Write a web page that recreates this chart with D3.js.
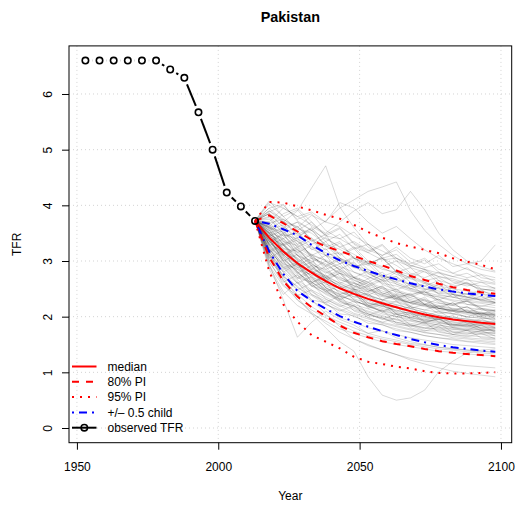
<!DOCTYPE html>
<html>
<head>
<meta charset="utf-8">
<script src="https://cdn.jsdelivr.net/npm/d3@7"></script>
<style>
  html, body { margin: 0; padding: 0; background: #fff; }
  svg { display: block; font-family: "Liberation Sans", Arial, Helvetica, sans-serif; }
</style>
</head>
<body>
<script>
// Pakistan: observed total fertility rate and probabilistic projection

const country = "Pakistan";

// Observed TFR (5-year period midpoints)
const obsYears = [1953, 1958, 1963, 1968, 1973, 1978, 1983, 1988, 1993, 1998, 2003, 2008, 2013];
const obsTFR   = [6.60, 6.60, 6.60, 6.60, 6.60, 6.60, 6.44, 6.29, 5.67, 5.00, 4.23, 3.98, 3.72];

// Projection periods
const projYears = [2013, 2018, 2023, 2028, 2033, 2038, 2043, 2048, 2053, 2058, 2063, 2068, 2073, 2078, 2083, 2088, 2093, 2098];

const median  = [3.72, 3.42, 3.17, 2.96, 2.79, 2.64, 2.51, 2.41, 2.32, 2.24, 2.17, 2.10, 2.04, 1.99, 1.95, 1.92, 1.89, 1.87];
const pi80Up  = [3.72, 3.82, 3.68, 3.53, 3.38, 3.26, 3.18, 3.09, 3.00, 2.92, 2.83, 2.73, 2.66, 2.59, 2.53, 2.48, 2.44, 2.41];
const pi80Low = [3.72, 3.07, 2.64, 2.36, 2.17, 2.01, 1.84, 1.71, 1.63, 1.56, 1.51, 1.47, 1.42, 1.38, 1.35, 1.33, 1.31, 1.29];
const pi95Up  = [3.72, 4.06, 4.05, 3.98, 3.91, 3.83, 3.76, 3.65, 3.52, 3.42, 3.32, 3.26, 3.20, 3.14, 3.05, 2.99, 2.93, 2.85];
const pi95Low = [3.72, 2.82, 2.22, 1.91, 1.67, 1.55, 1.43, 1.28, 1.19, 1.15, 1.10, 1.07, 1.02, 0.99, 0.98, 0.98, 0.99, 1.00];
const halfChildUp  = [3.72, 3.67, 3.57, 3.46, 3.29, 3.14, 3.01, 2.91, 2.82, 2.74, 2.67, 2.60, 2.54, 2.49, 2.45, 2.42, 2.39, 2.37];
const halfChildLow = [3.72, 3.17, 2.77, 2.46, 2.29, 2.14, 2.01, 1.91, 1.82, 1.74, 1.67, 1.60, 1.54, 1.49, 1.45, 1.42, 1.39, 1.37];

// Sampled trajectories
const trajectories = [
  [3.72,3.50,3.31,3.05,2.88,2.70,2.55,2.49,2.38,2.30,2.21,2.15,2.08,2.02,1.99,1.95,1.93,1.90],
  [3.72,3.38,3.10,2.95,2.71,2.60,2.44,2.36,2.29,2.18,2.12,2.05,2.00,1.96,1.91,1.88,1.86,1.84],
  [3.72,3.60,3.52,3.35,3.22,3.10,3.02,2.88,2.80,2.70,2.62,2.51,2.44,2.38,2.35,2.30,2.26,2.24],
  [3.72,3.21,2.90,2.62,2.45,2.31,2.20,2.06,1.99,1.90,1.84,1.78,1.71,1.68,1.62,1.60,1.57,1.55],
  [3.72,3.90,3.70,3.62,3.40,3.28,3.05,2.95,2.77,2.66,2.59,2.48,2.40,2.35,2.28,2.22,2.20,2.16],
  [3.72,3.30,2.98,2.70,2.62,2.48,2.36,2.30,2.18,2.10,2.04,1.98,1.92,1.88,1.85,1.81,1.78,1.76],
  [3.72,3.45,3.28,3.10,3.00,2.82,2.70,2.61,2.50,2.43,2.35,2.28,2.22,2.15,2.11,2.06,2.04,2.01],
  [3.72,3.08,2.66,2.40,2.18,2.02,1.90,1.80,1.70,1.63,1.58,1.52,1.49,1.45,1.43,1.40,1.38,1.36],
  [3.72,3.55,3.22,3.18,2.92,2.85,2.66,2.60,2.52,2.38,2.33,2.25,2.20,2.12,2.10,2.04,2.00,1.98],
  [3.72,3.68,3.75,3.58,3.50,3.30,3.21,3.05,2.98,2.85,2.80,2.70,2.62,2.55,2.50,2.46,2.41,2.38],
  [3.72,3.25,3.05,2.80,2.55,2.42,2.30,2.19,2.10,2.02,1.95,1.92,1.86,1.82,1.78,1.75,1.73,1.70],
  [3.72,3.40,3.20,2.92,2.80,2.58,2.52,2.40,2.25,2.20,2.10,2.06,1.98,1.95,1.90,1.86,1.84,1.82],
  [3.72,4.05,3.95,3.80,3.88,3.70,3.62,3.45,3.30,3.18,3.05,2.92,2.85,2.72,2.65,2.58,2.50,2.46],
  [3.72,2.90,2.45,2.20,2.05,1.92,1.78,1.70,1.62,1.55,1.50,1.46,1.42,1.38,1.36,1.33,1.31,1.30],
  [3.72,3.52,3.40,3.20,3.05,2.95,2.78,2.70,2.58,2.50,2.40,2.34,2.28,2.20,2.15,2.12,2.08,2.05],
  [3.72,3.35,3.12,2.88,2.68,2.55,2.46,2.32,2.24,2.15,2.08,2.02,1.96,1.92,1.88,1.84,1.83,1.80],
  [3.72,3.62,3.30,3.00,2.70,2.48,2.28,2.15,2.05,1.98,1.90,1.86,1.80,1.78,1.74,1.72,1.70,1.69],
  [3.72,3.15,2.95,2.85,2.75,2.66,2.58,2.50,2.44,2.36,2.30,2.24,2.18,2.15,2.10,2.08,2.05,2.03],
  [3.72,3.85,3.70,3.90,4.31,4.71,3.97,3.60,3.30,3.05,2.92,2.75,2.62,2.50,2.42,2.35,2.30,2.26],
  [3.72,3.85,3.60,3.70,3.55,3.72,3.95,4.10,4.25,4.33,4.42,3.90,3.55,3.30,3.10,2.95,2.85,2.80],
  [3.72,3.70,3.95,3.80,3.65,3.50,3.70,3.90,4.05,3.85,3.92,4.25,3.92,3.50,3.20,3.00,2.90,2.82],
  [3.72,3.60,3.45,3.50,3.30,3.42,3.25,3.35,3.20,3.10,3.25,3.05,2.95,3.10,2.90,2.95,3.00,3.29],
  [3.72,3.20,2.70,2.35,2.05,1.80,1.55,1.38,0.92,0.59,0.50,0.54,0.68,1.01,1.20,1.35,1.40,1.42],
  [3.72,2.95,2.30,1.63,1.90,2.10,1.95,1.85,1.70,1.75,1.62,1.55,1.50,1.45,1.42,1.40,1.38,1.36],
  [3.72,3.48,3.35,3.28,3.10,3.02,2.90,2.80,2.72,2.60,2.55,2.46,2.40,2.36,2.30,2.27,2.24,2.20],
  [3.72,3.12,2.80,2.52,2.38,2.22,2.12,2.00,1.92,1.85,1.78,1.72,1.66,1.62,1.58,1.55,1.52,1.50],
  [3.72,3.58,3.15,2.90,2.74,2.52,2.40,2.26,2.22,2.08,2.00,1.96,1.88,1.85,1.80,1.77,1.76,1.74],
  [3.72,3.95,4.02,3.72,3.55,3.40,3.25,3.12,2.96,2.88,2.76,2.68,2.60,2.52,2.46,2.40,2.36,2.33],
  [3.72,3.30,3.08,2.78,2.62,2.44,2.32,2.22,2.14,2.05,2.00,1.93,1.90,1.85,1.81,1.79,1.76,1.74],
  [3.72,3.42,3.28,3.02,2.86,2.74,2.60,2.46,2.40,2.30,2.26,2.18,2.12,2.08,2.05,2.00,1.97,1.96],
  [3.72,3.00,2.58,2.30,2.12,1.98,1.86,1.74,1.66,1.60,1.55,1.50,1.46,1.42,1.40,1.37,1.35,1.33],
  [3.72,3.65,3.48,3.40,3.25,3.15,3.05,2.92,2.84,2.74,2.66,2.58,2.50,2.46,2.40,2.35,2.32,2.30],
  [3.72,3.36,3.02,2.82,2.55,2.48,2.25,2.20,2.02,1.98,1.86,1.84,1.75,1.74,1.68,1.66,1.64,1.62],
  [3.72,3.50,3.60,3.30,3.42,3.10,3.15,2.90,2.95,2.70,2.72,2.55,2.55,2.42,2.40,2.32,2.30,2.26],
  [3.72,3.22,2.88,2.98,2.62,2.70,2.40,2.46,2.20,2.25,2.05,2.08,1.92,1.95,1.85,1.86,1.80,1.80],
  [3.72,3.44,3.12,2.85,2.66,2.50,2.38,2.28,2.20,2.12,2.05,1.98,1.94,1.90,1.86,1.83,1.80,1.79],
  [3.72,3.75,3.50,3.30,3.12,3.00,2.85,2.72,2.62,2.52,2.45,2.38,2.30,2.24,2.20,2.16,2.13,2.10],
  [3.72,3.10,2.72,2.55,2.30,2.25,2.05,2.02,1.88,1.86,1.75,1.72,1.66,1.62,1.60,1.56,1.55,1.52],
  [3.72,3.55,3.38,3.10,2.95,2.80,2.68,2.55,2.48,2.38,2.32,2.25,2.20,2.15,2.12,2.08,2.05,2.02],
  [3.72,3.28,2.92,2.66,2.48,2.35,2.22,2.12,2.05,1.96,1.90,1.85,1.80,1.76,1.72,1.70,1.68,1.66],
  [3.72,4.08,3.80,3.55,3.70,3.45,3.40,3.25,3.15,3.02,3.05,2.88,2.80,2.72,2.68,2.60,2.55,2.52],
  [3.72,3.40,3.00,2.75,2.58,2.40,2.28,2.18,2.08,2.00,1.94,1.88,1.84,1.80,1.77,1.75,1.72,1.71],
  [3.72,3.32,3.15,2.95,2.78,2.62,2.52,2.40,2.32,2.24,2.16,2.10,2.05,2.00,1.96,1.93,1.90,1.88],
  [3.72,2.85,2.40,2.62,2.30,2.05,1.82,1.60,1.48,1.40,1.32,1.25,1.20,1.18,1.15,1.12,1.10,1.08],
  [3.72,3.62,3.45,3.25,3.08,2.92,2.78,2.66,2.55,2.46,2.38,2.31,2.24,2.18,2.14,2.10,2.06,2.04],
  [3.72,3.18,2.82,2.60,2.40,2.28,2.14,2.04,1.96,1.88,1.82,1.76,1.72,1.68,1.65,1.62,1.60,1.58],
  [3.72,3.52,3.18,3.05,2.82,2.70,2.55,2.44,2.36,2.26,2.22,2.14,2.08,2.02,1.98,1.96,1.92,1.90],
  [3.72,3.85,3.62,3.42,3.60,3.35,3.48,3.22,3.30,3.05,3.12,2.92,2.85,2.78,2.72,2.66,2.62,2.58],
  [3.72,3.05,2.75,2.48,2.28,2.15,1.98,1.90,1.80,1.74,1.68,1.62,1.58,1.54,1.50,1.48,1.46,1.44],
  [3.72,3.46,3.24,2.98,2.80,2.66,2.50,2.42,2.31,2.22,2.16,2.08,2.02,1.98,1.94,1.90,1.88,1.86],
  [3.72,3.15,2.65,2.30,2.08,1.88,1.72,1.60,1.50,1.40,1.32,1.22,1.15,1.08,1.02,0.98,0.95,0.92],
  [3.72,3.90,3.75,3.60,3.82,3.70,4.05,3.95,3.70,3.50,3.62,3.40,3.20,3.05,2.95,2.85,2.76,2.70],
  [3.72,3.60,3.30,3.42,3.05,2.90,3.02,2.70,2.62,2.75,2.48,2.40,2.45,2.30,2.22,2.28,2.15,2.10],
  [3.72,3.35,3.50,3.10,2.85,3.00,2.72,2.55,2.68,2.42,2.35,2.40,2.22,2.18,2.25,2.08,2.02,2.05],
  [3.72,3.05,3.20,2.80,2.60,2.75,2.50,2.35,2.42,2.20,2.10,2.18,2.00,1.95,2.02,1.88,1.85,1.90],
  [3.72,3.80,3.55,3.70,3.35,3.48,3.10,3.22,2.95,3.05,2.80,2.88,2.65,2.70,2.55,2.60,2.48,2.50],
  [3.72,3.25,2.85,2.95,2.55,2.62,2.30,2.42,2.15,2.22,2.00,2.05,1.90,1.96,1.82,1.85,1.75,1.78],
  [3.72,3.48,3.12,3.25,2.92,2.70,2.82,2.50,2.38,2.52,2.28,2.20,2.30,2.10,2.05,2.12,1.98,1.95],
  [3.72,3.95,3.72,3.48,3.58,3.25,3.35,3.05,2.92,3.08,2.80,2.70,2.82,2.60,2.52,2.62,2.45,2.40],
  [3.72,3.15,3.30,2.92,3.05,2.65,2.78,2.48,2.55,2.30,2.38,2.15,2.22,2.05,2.10,1.98,2.00,1.92],
  [3.72,3.42,3.00,2.70,2.85,2.52,2.35,2.48,2.20,2.08,2.18,1.95,1.88,1.98,1.80,1.76,1.85,1.72],
  [3.72,3.70,3.40,3.55,3.20,3.35,3.05,2.88,3.00,2.75,2.62,2.72,2.50,2.42,2.52,2.35,2.30,2.38],
  [3.72,2.98,2.62,2.75,2.40,2.25,2.38,2.10,2.02,2.12,1.88,1.82,1.90,1.72,1.68,1.76,1.62,1.60],
  [3.72,3.55,3.65,3.35,3.10,3.22,2.95,3.05,2.78,2.65,2.80,2.55,2.48,2.58,2.40,2.35,2.42,2.30],
  [3.72,3.28,3.40,3.15,2.90,2.72,2.85,2.62,2.45,2.55,2.35,2.25,2.32,2.15,2.12,2.18,2.05,2.08],
  [3.72,3.62,3.85,3.95,3.70,3.45,3.58,3.30,3.15,3.28,3.00,2.90,3.02,2.80,2.72,2.78,2.65,2.60],
  [3.72,3.38,3.05,2.78,2.92,2.65,2.50,2.60,2.38,2.30,2.40,2.18,2.12,2.20,2.05,2.00,2.08,1.96],
  [3.72,3.10,2.80,2.95,2.62,2.45,2.55,2.30,2.18,2.28,2.05,1.98,2.08,1.90,1.84,1.92,1.78,1.75],
  [3.72,3.50,3.20,2.98,3.12,2.85,2.95,2.70,2.58,2.68,2.45,2.38,2.48,2.28,2.22,2.30,2.15,2.12],
  [3.72,3.88,4.00,3.75,3.85,3.55,3.40,3.52,3.25,3.10,3.20,2.98,2.88,2.95,2.78,2.70,2.75,2.62],
  [3.72,3.22,2.95,2.68,2.80,2.52,2.40,2.50,2.25,2.18,2.28,2.08,2.00,2.10,1.95,1.90,1.96,1.85],
  [3.72,3.45,3.55,3.25,3.38,3.10,2.95,3.08,2.85,2.72,2.82,2.62,2.55,2.65,2.45,2.40,2.48,2.36],
  [3.72,3.02,2.72,2.48,2.60,2.32,2.18,2.28,2.05,1.95,2.05,1.85,1.78,1.88,1.72,1.68,1.75,1.65],
  [3.72,3.65,3.35,3.15,3.28,3.00,2.85,2.98,2.72,2.62,2.72,2.50,2.42,2.52,2.35,2.30,2.36,2.25],
  [3.72,3.32,3.48,3.20,2.98,3.10,2.82,2.70,2.82,2.58,2.48,2.58,2.38,2.30,2.40,2.22,2.18,2.25],
  [3.72,3.78,3.50,3.62,3.38,3.20,3.32,3.05,2.95,3.05,2.82,2.75,2.85,2.65,2.58,2.68,2.50,2.46],
  [3.72,3.18,3.32,3.02,2.78,2.90,2.62,2.52,2.62,2.40,2.32,2.42,2.22,2.15,2.25,2.08,2.05,2.12],
  [3.72,3.40,3.10,3.22,2.95,2.78,2.90,2.65,2.55,2.65,2.42,2.35,2.45,2.25,2.20,2.28,2.12,2.10],
  [3.72,2.92,2.55,2.38,2.48,2.22,2.10,2.20,1.98,1.90,1.98,1.80,1.74,1.82,1.68,1.64,1.70,1.60],
  [3.72,3.58,3.72,3.45,3.55,3.28,3.12,3.25,3.00,2.90,3.00,2.78,2.70,2.80,2.62,2.55,2.62,2.50],
  [3.72,3.30,3.00,3.12,2.82,2.68,2.78,2.55,2.45,2.55,2.32,2.25,2.35,2.15,2.10,2.18,2.02,2.00],
  [3.72,3.50,3.28,3.38,3.08,2.92,3.05,2.80,2.68,2.80,2.58,2.50,2.60,2.40,2.35,2.42,2.28,2.25],
  [3.72,3.12,2.88,2.60,2.72,2.45,2.32,2.42,2.18,2.10,2.20,2.00,1.94,2.02,1.86,1.82,1.90,1.80],
  [3.72,4.02,3.80,3.92,3.62,3.48,3.60,3.32,3.18,3.30,3.05,2.95,3.05,2.85,2.78,2.88,2.70,2.66],
  [3.72,3.36,3.08,2.88,2.98,2.72,2.60,2.70,2.48,2.40,2.50,2.28,2.22,2.32,2.12,2.08,2.15,2.02]
];

const xTicks = [1950, 2000, 2050, 2100];
const yTicks = [0, 1, 2, 3, 4, 5, 6];

const legendLabels = ["median", "80% PI", "95% PI", "+/\u2013 0.5 child", "observed TFR"];

// ---- layout ----
const W = 516, H = 509;
const plot = { left: 69, right: 511.7, top: 45.9, bottom: 442.7 };

const svg = d3.select("body").append("svg")
  .attr("width", W).attr("height", H);

const x = d3.scaleLinear().domain([1947.2, 2103.8]).range([plot.left, plot.right]);
const y = d3.scaleLinear().domain([-0.264, 6.864]).range([plot.bottom, plot.top]);

// grid
const grid = svg.append("g").attr("stroke", "#d3d3d3").attr("stroke-width", 1)
  .attr("stroke-dasharray", "1,3");
grid.selectAll("line.gx").data(xTicks).join("line")
  .attr("x1", d => x(d)).attr("x2", d => x(d))
  .attr("y1", plot.top).attr("y2", plot.bottom);
grid.selectAll("line.gy").data(yTicks).join("line")
  .attr("y1", d => y(d)).attr("y2", d => y(d))
  .attr("x1", plot.left).attr("x2", plot.right);

// clip for data
svg.append("clipPath").attr("id", "clip").append("rect")
  .attr("x", plot.left).attr("y", plot.top)
  .attr("width", plot.right - plot.left).attr("height", plot.bottom - plot.top);

const data = svg.append("g").attr("clip-path", "url(#clip)");

const lineGen = d3.line().x((d, i) => x(projYears[i])).y(d => y(d));

// trajectories
data.append("g").selectAll("path").data(trajectories).join("path")
  .attr("d", lineGen)
  .attr("fill", "none")
  .attr("stroke", "#000")
  .attr("stroke-opacity", 0.17)
  .attr("stroke-width", 0.9);

// observed series, drawn like R type="b": segments with gaps around the points
const obs = obsYears.map((yr, i) => ({ px: x(yr), py: y(obsTFR[i]) }));
const gap = 7;
const obsG = data.append("g");
for (let i = 0; i < obs.length - 1; i++) {
  const a = obs[i], b = obs[i + 1];
  const dx = b.px - a.px, dy = b.py - a.py;
  const len = Math.hypot(dx, dy);
  if (len <= 2 * gap) continue;
  const ux = dx / len, uy = dy / len;
  obsG.append("line")
    .attr("x1", a.px + ux * gap).attr("y1", a.py + uy * gap)
    .attr("x2", b.px - ux * gap).attr("y2", b.py - uy * gap)
    .attr("stroke", "#000").attr("stroke-width", 2);
}

// quantile lines
const styles = [
  { vals: halfChildUp,  color: "#0000ff", dash: "2,5,8,5" },
  { vals: halfChildLow, color: "#0000ff", dash: "2,5,8,5" },
  { vals: pi95Up,  color: "#ff0000", dash: "2,6" },
  { vals: pi95Low, color: "#ff0000", dash: "2,6" },
  { vals: pi80Up,  color: "#ff0000", dash: "7,7" },
  { vals: pi80Low, color: "#ff0000", dash: "7,7" },
  { vals: median,  color: "#ff0000", dash: null }
];
data.append("g").selectAll("path").data(styles).join("path")
  .attr("d", d => lineGen(d.vals))
  .attr("fill", "none")
  .attr("stroke", d => d.color)
  .attr("stroke-width", 2)
  .attr("stroke-dasharray", d => d.dash);

// observed points
data.append("g").selectAll("circle").data(obs).join("circle")
  .attr("cx", d => d.px).attr("cy", d => d.py).attr("r", 3.2)
  .attr("fill", "none").attr("stroke", "#000").attr("stroke-width", 1.6);

// frame
svg.append("rect")
  .attr("x", plot.left).attr("y", plot.top)
  .attr("width", plot.right - plot.left).attr("height", plot.bottom - plot.top)
  .attr("fill", "none").attr("stroke", "#000").attr("stroke-width", 1);

// x axis
const xAxis = svg.append("g").attr("transform", `translate(0,${plot.bottom})`)
  .call(d3.axisBottom(x).tickValues(xTicks).tickSize(7).tickPadding(13).tickFormat(d3.format("d")));
xAxis.select(".domain").remove();
xAxis.selectAll("text").attr("font-size", 12).attr("fill", "#000")
  .attr("font-family", "Liberation Sans, Arial, sans-serif");
xAxis.selectAll("line").attr("stroke", "#000");

// y axis (labels parallel to axis)
const yAxis = svg.append("g").attr("transform", `translate(${plot.left},0)`)
  .call(d3.axisLeft(y).tickValues(yTicks).tickSize(7).tickFormat(d3.format("d")));
yAxis.select(".domain").remove();
yAxis.selectAll("line").attr("stroke", "#000");
yAxis.selectAll("text")
  .attr("font-size", 12).attr("fill", "#000")
  .attr("font-family", "Liberation Sans, Arial, sans-serif")
  .attr("x", null).attr("dy", null)
  .attr("text-anchor", "middle")
  .attr("transform", "translate(-17.5,0) rotate(-90)");

// titles
svg.append("text").attr("x", (plot.left + plot.right) / 2).attr("y", 21.5)
  .attr("text-anchor", "middle").attr("font-weight", "bold").attr("font-size", 14.4)
  .text(country);
svg.append("text").attr("x", (plot.left + plot.right) / 2).attr("y", 500)
  .attr("text-anchor", "middle").attr("font-size", 12).text("Year");
svg.append("text").attr("transform", `translate(20.5,${(plot.top + plot.bottom) / 2}) rotate(-90)`)
  .attr("text-anchor", "middle").attr("font-size", 12).text("TFR");

// legend
const legendRows = [
  { color: "#ff0000", dash: null, point: false },
  { color: "#ff0000", dash: "7,7", point: false },
  { color: "#ff0000", dash: "2,6", point: false },
  { color: "#0000ff", dash: "2,5,8,5", point: false },
  { color: "#000000", dash: null, point: true }
];
const lg = svg.append("g");
legendRows.forEach((r, i) => {
  const yy = 366.5 + i * 15.3;
  lg.append("line").attr("x1", 72).attr("x2", 96.5).attr("y1", yy).attr("y2", yy)
    .attr("stroke", r.color).attr("stroke-width", 2).attr("stroke-dasharray", r.dash);
  if (r.point) {
    lg.append("circle").attr("cx", 84.3).attr("cy", yy).attr("r", 3.2)
      .attr("fill", "none").attr("stroke", "#000").attr("stroke-width", 1.6);
  }
  lg.append("text").attr("x", 107.5).attr("y", yy + 4.3).attr("font-size", 12)
    .text(legendLabels[i]);
});
</script>
</body>
</html>
